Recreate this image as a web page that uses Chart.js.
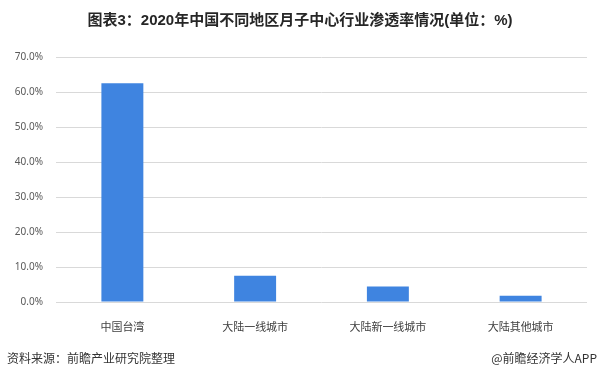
<!DOCTYPE html>
<html>
<head>
<meta charset="utf-8">
<script src="https://cdn.jsdelivr.net/npm/chart.js@4/dist/chart.umd.min.js"></script>
<style>
  html, body { margin: 0; padding: 0; background: #fff; }
  #wrap { position: relative; width: 600px; height: 377px; overflow: hidden; }
  #chart { position: absolute; left: 0; top: 0; }
  .title {
    position: absolute; left: 0; top: 8px; width: 600px; text-align: center;
    font: bold 15px "Liberation Sans", "Noto Sans CJK SC", sans-serif; color: #262626;
  }
  .foot {
    position: absolute; top: 349px;
    font: 12px "Noto Sans CJK SC", sans-serif; color: #333;
  }
</style>
</head>
<body>
<div id="wrap">
  <canvas id="chart" width="600" height="377"></canvas>
  <div class="title">图表3：2020年中国不同地区月子中心行业渗透率情况(单位：%)</div>
  <div class="foot" style="left:7px">资料来源：前瞻产业研究院整理</div>
  <div class="foot" style="right:3px">@前瞻经济学人APP</div>
</div>
<script>
const categories = ['中国台湾', '大陆一线城市', '大陆新一线城市', '大陆其他城市'];
const penetration = [62.5, 7.5, 4.4, 1.8];
const yMax = 70;
const yStep = 10;

const ctx = document.getElementById('chart').getContext('2d');
new Chart(ctx, {
  type: 'bar',
  data: {
    labels: categories,
    datasets: [{
      data: penetration,
      backgroundColor: '#3f84e0',
      barPercentage: 0.316,
      categoryPercentage: 1,
    }]
  },
  options: {
    responsive: false,
    animation: false,
    layout: { padding: { left: 0, right: 13, top: 57, bottom: 45 } },
    plugins: { legend: { display: false }, tooltip: { enabled: false } },
    scales: {
      x: {
        grid: { display: false },
        border: { display: false },
        ticks: {
          color: '#404040',
          padding: 10,
          font: { family: 'Noto Sans CJK SC', size: 11 },
        },
        afterFit: s => { s.height = 30; },
      },
      y: {
        min: 0,
        max: yMax,
        grid: { color: '#d9d9d9', drawTicks: false },
        border: { display: false },
        ticks: {
          stepSize: yStep,
          color: '#595959',
          padding: 13,
          font: { family: 'Noto Sans', size: 10 },
          callback: v => v.toFixed(1) + '%',
        },
        afterFit: s => { s.width = 56; },
      }
    }
  }
});
</script>
</body>
</html>
